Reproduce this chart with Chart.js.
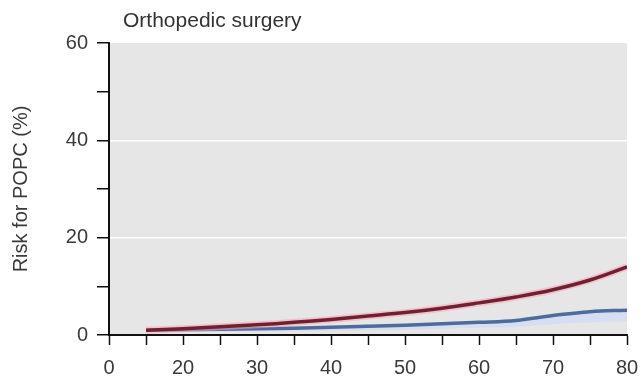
<!DOCTYPE html>
<html><head><meta charset="utf-8">
<script src="https://cdn.jsdelivr.net/npm/chart.js@4/dist/chart.umd.min.js"></script>
<style>html,body{margin:0;padding:0;background:#fff;}#wrap{width:643px;height:380px;}</style>
</head><body><div id="wrap"><canvas id="c" width="643" height="380"></canvas></div>
<script>
const chartTitle = "Orthopedic surgery";
const yAxisTitle = "Risk for POPC (%)";
const ages = [15, 20, 25, 30, 35, 40, 45, 50, 55, 60, 65, 70, 75, 80];
const redRisk = [1.0, 1.3, 1.7, 2.1, 2.6, 3.2, 3.9, 4.6, 5.5, 6.6, 7.8, 9.3, 11.3, 14.0];
const blueRisk = [1.0, 1.1, 1.2, 1.3, 1.4, 1.6, 1.8, 2.0, 2.3, 2.6, 3.0, 4.0, 4.8, 5.1];
const blueLower = [0.6, 0.6, 0.7, 0.7, 0.8, 0.9, 1.0, 1.1, 1.3, 1.5, 1.7, 2.2, 2.6, 2.8];
const yTickLabels = [0, 20, 40, 60];
const xTickLabelMap = {10: "0", 20: "20", 30: "30", 40: "40", 50: "50", 60: "60", 70: "70", 80: "80"};

const pts = arr => ages.map((a, i) => ({x: a, y: arr[i]}));
const fam = "'Liberation Sans', Arial, sans-serif";
const font = {family: fam, size: 20};

const bgPlugin = {
  id: 'bg',
  beforeDraw(chart) {
    const {ctx, chartArea: a} = chart;
    ctx.save();
    ctx.fillStyle = '#e6e6e6';
    ctx.fillRect(a.left, a.top, a.right - a.left, a.bottom - a.top);
    ctx.restore();
  },
  afterDraw(chart) {
    const {ctx, chartArea: a} = chart;
    ctx.save();
    ctx.fillStyle = '#333';
    ctx.font = "21px " + fam;
    ctx.textBaseline = 'alphabetic';
    ctx.textAlign = 'left';
    ctx.fillText(chartTitle, a.left + 14, 27);
    ctx.restore();
  }
};

new Chart(document.getElementById('c'), {
  type: 'line',
  data: {
    datasets: [
      {data: pts(blueLower), order: 4, borderWidth: 0, pointRadius: 0, tension: 0.4, fill: false, backgroundColor: 'rgba(0,0,0,0)'},
      {data: pts(blueRisk), order: 3, borderColor: '#4d6b9b', borderWidth: 3.5, pointRadius: 0, tension: 0.4,
       fill: '-1', backgroundColor: 'rgba(205,215,250,0.6)'},
      {data: pts(redRisk), order: 2, borderColor: 'rgba(245,165,185,0.55)', borderWidth: 7, pointRadius: 0, tension: 0.4, fill: false},
      {data: pts(redRisk), order: 1, borderColor: '#72202f', borderWidth: 3.5, pointRadius: 0, tension: 0.4, fill: false}
    ]
  },
  options: {
    responsive: false,
    animation: false,
    layout: {padding: {top: 43, right: 16, left: 0, bottom: 0}},
    plugins: {legend: {display: false}, tooltip: {enabled: false}, title: {display: false}},
    scales: {
      x: {
        type: 'linear', min: 10, max: 80,
        afterFit(s) { s.height = 45; s.paddingRight = 10; s.paddingLeft = 0; },
        afterBuildTicks(s) { s.ticks = []; for (let v = 10; v <= 80; v += 5) s.ticks.push({value: v}); },
        ticks: {
          autoSkip: false, maxRotation: 0, padding: 11, color: '#3a3a3a', font: font,
          callback: v => (xTickLabelMap[v] !== undefined ? xTickLabelMap[v] : '')
        },
        grid: {color: 'rgba(0,0,0,0)', tickColor: '#111', tickLength: 10, tickWidth: 1.5},
        border: {color: '#111', width: 2}
      },
      y: {
        min: 0, max: 60,
        afterFit(s) { s.width = 109; },
        afterBuildTicks(s) { s.ticks = []; for (let v = 0; v <= 60; v += 10) s.ticks.push({value: v}); },
        ticks: {
          autoSkip: false, padding: 9, color: '#3a3a3a', font: font,
          callback: v => (yTickLabels.includes(v) ? String(v) : '')
        },
        grid: {
          color: c => (c.tick && c.tick.value % 20 === 0 && c.tick.value > 0 && c.tick.value < 60) ? '#ffffff' : 'rgba(0,0,0,0)',
          lineWidth: 1.5, tickColor: '#111', tickLength: 12, tickWidth: 1.5
        },
        border: {color: '#111', width: 2},
        title: {display: true, text: yAxisTitle, color: '#3a3a3a', font: {family: fam, size: 20}, padding: {top: 9, bottom: 0}}
      }
    }
  },
  plugins: [bgPlugin]
});
</script>
</body></html>
